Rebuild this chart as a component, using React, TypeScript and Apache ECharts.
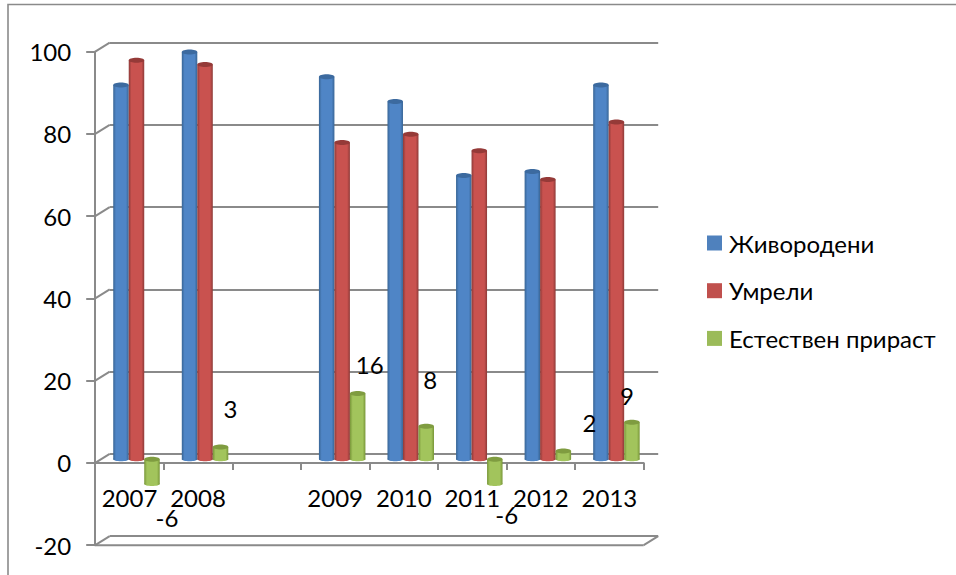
import React, { useEffect, useRef } from "react";
import * as echarts from "echarts";

const categories = ["2007", "2008", "", "2009", "2010", "2011", "2012", "2013"];
const liveBirths = [91, 99, null, 93, 87, 69, 70, 91];
const deaths = [97, 96, null, 77, 79, 75, 68, 82];
const naturalGrowth = [-6, 3, null, 16, 8, -6, 2, 9];
const seriesNames = ["Живородени", "Умрели", "Естествен прираст"];
const yTicks = [-20, 0, 20, 40, 60, 80, 100];

// Hand-placed data label shifts [dx, dy] of the growth series, as in the source chart
const growthLabelShifts = [[15, 70], [10, -26], [0, 0], [12, -17], [4, -35], [12, 67], [26, -17], [-5, -15]];

const FONT = 'Lato, "Noto Sans", sans-serif';
const GREY = "#8a8a8a";
const FS = 24;
const BAR_W = 15.5;
const DX = 14.5;
const DY = -9;
const PLOT_H = 493.5;
const Y_MIN = -20;
const Y_MAX = 100;

const palette = [
  { flat: "#4f81bd", edge: "#386595", mid: "#4f85c6", cap: "#3c6a9f" },
  { flat: "#c0504d", edge: "#8d3a38", mid: "#c9524f", cap: "#953a38" },
  { flat: "#9bbb59", edge: "#789638", mid: "#a2c45c", cap: "#7f9c40" },
];

const bodyFill = (p: any) =>
  new echarts.graphic.LinearGradient(0, 0, 1, 0, [
    { offset: 0, color: p.edge },
    { offset: 0.18, color: p.mid },
    { offset: 0.82, color: p.mid },
    { offset: 1, color: p.edge },
  ]);

export default function App() {
  const ref = useRef<HTMLDivElement>(null);
  useEffect(() => {
    const chart = echarts.init(ref.current!, undefined, { renderer: "svg" });
    const lists = [liveBirths, deaths, naturalGrowth];

    const bars = lists.map((vals, s) => ({
      type: "bar",
      name: seriesNames[s],
      xAxisIndex: 1,
      yAxisIndex: 1,
      data:
        s === 2
          ? vals.map((v, i) => ({
              value: v,
              label: { offset: growthLabelShifts[i] },
            }))
          : vals,
      barWidth: BAR_W,
      barGap: "0%",
      z: 3,
      itemStyle: { color: bodyFill(palette[s]) },
      label:
        s === 2
          ? { show: true, position: "top", distance: 0, fontFamily: FONT, fontSize: FS, color: "#000" }
          : { show: false },
    }));

    const caps = lists.map((vals, s) => ({
      type: "custom",
      name: "cap" + s,
      xAxisIndex: 1,
      yAxisIndex: 1,
      z: 4,
      silent: true,
      data: vals.map((v, i) => [i, v]),
      renderItem: (_: any, api: any) => {
        const v = api.value(1);
        if (v === null || isNaN(v)) return null;
        const i = api.value(0);
        const zero = api.coord([i, 0]);
        const end = api.coord([i, v]);
        const cx = zero[0] + (s - 1) * BAR_W;
        const topY = Math.min(zero[1], end[1]);
        const botY = Math.max(zero[1], end[1]);
        return {
          type: "group",
          children: [
            { type: "ellipse", shape: { cx, cy: botY, rx: BAR_W / 2, ry: 2 }, style: { fill: bodyFill(palette[s]) } },
            { type: "ellipse", shape: { cx, cy: topY, rx: BAR_W / 2, ry: 2.5 }, style: { fill: palette[s].cap } },
          ],
        };
      },
    }));

    const wall = {
      type: "custom",
      name: "wall",
      xAxisIndex: 0,
      yAxisIndex: 0,
      z: 1,
      silent: true,
      data: yTicks.map((t) => [0, t]),
      renderItem: (params: any, api: any) => {
        const t = api.value(1);
        const y = api.coord([0, t])[1];
        const x0 = params.coordSys.x;
        const x1 = x0 + params.coordSys.width;
        const lineStyle = { stroke: GREY, lineWidth: 2, fill: "none" };
        const children: any[] = [
          { type: "line", shape: { x1: x0, y1: y, x2: x0 + DX, y2: y + DY }, style: lineStyle },
        ];
        if (t === Y_MIN) {
          children.push(
            { type: "line", shape: { x1: x0, y1: y, x2: x1, y2: y }, style: lineStyle },
            { type: "line", shape: { x1, y1: y, x2: x1 + DX, y2: y + DY }, style: lineStyle }
          );
        }
        return { type: "group", children };
      },
    };

    const yRange = { type: "value", min: Y_MIN, max: Y_MAX, interval: 20 };
    const gridBase = { containLabel: false, outerBoundsMode: "none", width: 548.5, height: PLOT_H };
    const zeroLift = (PLOT_H * (0 - Y_MIN)) / (Y_MAX - Y_MIN);

    chart.setOption({
      animation: false,
      backgroundColor: "#fff",
      grid: [
        { ...gridBase, left: 95.2, top: 51.7 }, // front plane: axes and labels
        { ...gridBase, left: 102.2, top: 48 }, // bars
        { ...gridBase, left: 109.7, top: 42.7 }, // back wall: gridlines
      ],
      xAxis: [
        {
          type: "category",
          gridIndex: 0,
          data: categories,
          boundaryGap: true,
          offset: -zeroLift,
          axisLine: { show: true, onZero: false, lineStyle: { color: GREY, width: 2 } },
          axisTick: { show: true, length: 7, alignWithLabel: false, lineStyle: { color: GREY, width: 2 } },
          axisLabel: { interval: 0, margin: 23, fontFamily: FONT, fontSize: FS, color: "#000" },
        },
        { type: "category", gridIndex: 1, data: categories, show: false },
        { type: "category", gridIndex: 2, data: categories, show: false },
      ],
      yAxis: [
        {
          ...yRange,
          gridIndex: 0,
          axisLine: { show: true, onZero: false, lineStyle: { color: GREY, width: 2 } },
          axisTick: { show: true, length: 9, lineStyle: { color: GREY, width: 2 } },
          axisLabel: { margin: 24, fontFamily: FONT, fontSize: FS, color: "#000" },
          splitLine: { show: false },
        },
        { ...yRange, gridIndex: 1, show: false, splitLine: { show: false } },
        {
          ...yRange,
          gridIndex: 2,
          axisLine: { show: false },
          axisTick: { show: false },
          axisLabel: { show: false },
          splitLine: { show: true, lineStyle: { color: GREY, width: 2 } },
        },
      ],
      legend: {
        orient: "vertical",
        left: 707,
        top: 231,
        padding: 0,
        itemWidth: 15,
        itemHeight: 15,
        itemGap: 23.7,
        icon: "rect",
        selectedMode: false,
        textStyle: { fontFamily: FONT, fontSize: FS, color: "#000", lineHeight: 15, padding: [0, 0, 0, 2] },
        data: seriesNames.map((name, s) => ({ name, itemStyle: { color: palette[s].flat } })),
      },
      graphic: [
        {
          type: "polyline",
          silent: true,
          shape: { points: [[8, 575], [8, 4.5], [956, 4.5]] },
          style: { stroke: GREY, lineWidth: 1.6, fill: "none" },
        },
      ],
      series: [wall, ...bars, ...caps],
    });
    return () => chart.dispose();
  }, []);
  return <div ref={ref} style={{ position: "fixed", left: 0, top: 0, width: 956, height: 575 }} />;
}
